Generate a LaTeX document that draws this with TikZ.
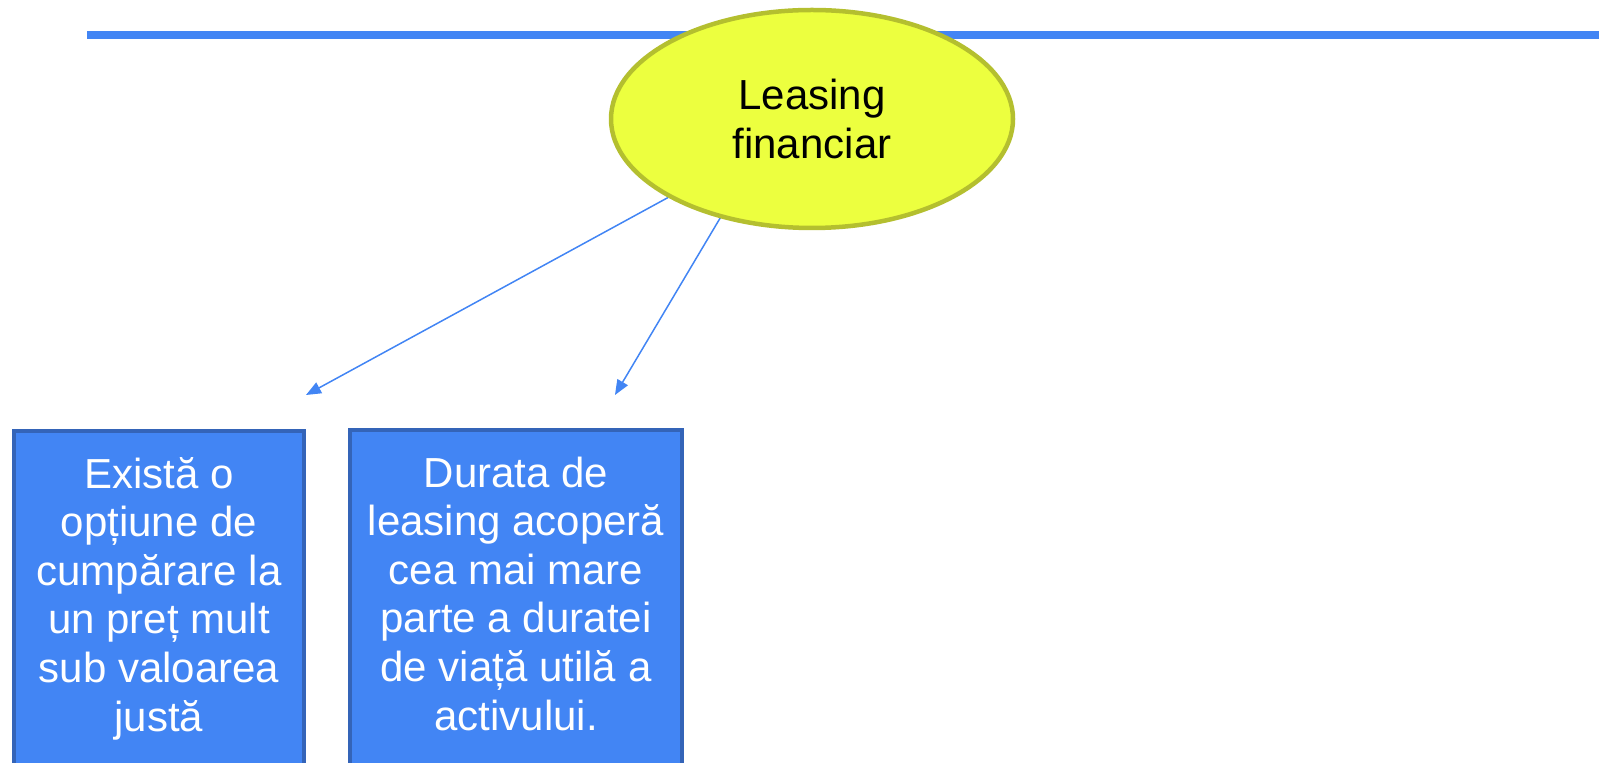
\documentclass[tikz,border=0pt]{standalone}
\usepackage{fontspec}
\setmainfont{Liberation Sans}
\usetikzlibrary{shapes.geometric,arrows.meta,backgrounds}
\definecolor{lineblue}{HTML}{4285F4}
\definecolor{ellfill}{HTML}{ECFF3F}
\definecolor{elldraw}{HTML}{B4BF2F}
\definecolor{boxfill}{HTML}{4285F4}
\definecolor{boxdraw}{HTML}{3464B8}
\begin{document}
\begin{tikzpicture}[x=1pt,y=1pt,
  bigfont/.style={font=\fontsize{42}{48.6}\selectfont},
  ellnode/.style={ellipse,draw=elldraw,fill=ellfill,line width=4.5pt,inner sep=0pt,
    minimum width=402pt,minimum height=218pt,align=center,bigfont,text=black},
  boxnode/.style={rectangle,draw=boxdraw,fill=boxfill,line width=4pt,inner sep=0pt,
    minimum height=352pt},
  boxtext/.style={align=center,bigfont,text=white,inner sep=0pt,anchor=north},
  conn/.style={draw=lineblue,line width=1.5pt,-{Triangle[length=15pt,width=12pt]}}
]
\useasboundingbox (0,0) rectangle (1599,763);
\clip (0,0) rectangle (1599,763);
% top rule
\coordinate (ls) at (87,728);
\coordinate (le) at (1600,728);
\draw[lineblue,line width=8pt] (ls) -- (le);
% ellipse
\node[ellnode] (e) at (812,644) {Leasing\\financiar};
% boxes
\node[boxnode,minimum width=290pt] (b1) at (159,156) {};
\node[boxnode,minimum width=332pt] (b2) at (516,156.5) {};
\node[boxtext] (t1x) at ([yshift=-28pt]b1.north) {Există o\\opțiune de\\cumpărare la\\un preț mult\\sub valoarea\\justă};
\node[boxtext] (t2x) at ([yshift=-28pt]b2.north) {Durata de\\leasing acoperă\\cea mai mare\\parte a duratei\\de viață utilă a\\activului.};
% arrow tips (free ends)
\coordinate (a1) at (306,368);
\coordinate (a2) at (615,368);
\coordinate (s2) at (779,644);
\begin{scope}[on background layer]
\draw[conn] (e) -- (a1);
\draw[conn] (s2) -- (a2);
\end{scope}
\end{tikzpicture}
\end{document}
